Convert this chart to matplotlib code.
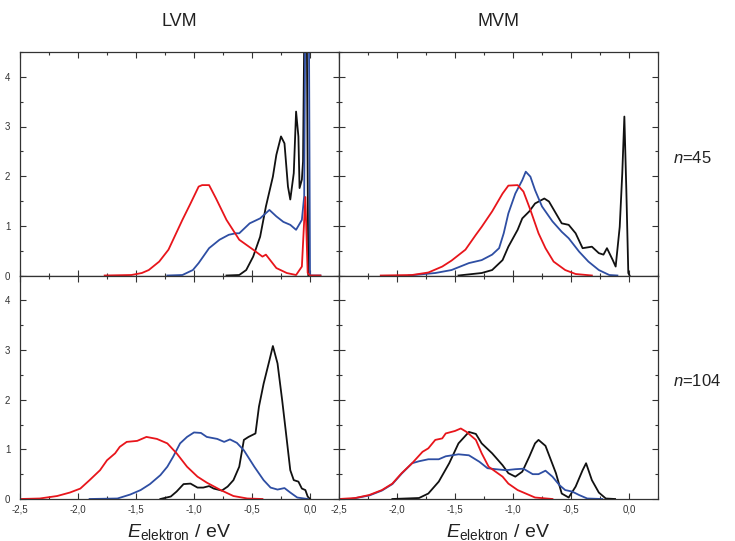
import numpy as np
import matplotlib
matplotlib.use("Agg")
import matplotlib.pyplot as plt
from matplotlib.ticker import MultipleLocator, FuncFormatter

plt.rcParams['font.family'] = ['Liberation Sans', 'DejaVu Sans']
plt.rcParams['mathtext.fontset'] = 'custom'
plt.rcParams['mathtext.rm'] = 'Liberation Sans'
plt.rcParams['mathtext.it'] = 'Liberation Sans:italic'

RED = '#e8151b'
BLUE = '#2e4ea3'
BLACK = '#111111'

# ---- LVM, n=45 ----
lvm45_red_x = [-1.77, -1.54, -1.45, -1.39, -1.30, -1.22, -1.16, -1.10, -1.03, -0.96, -0.93, -0.87,
               -0.81, -0.72, -0.61, -0.49, -0.41, -0.38, -0.29, -0.20, -0.12, -0.07, -0.04, -0.02,
               0.0, 0.09]
lvm45_red_y = [0.0, 0.01, 0.05, 0.11, 0.28, 0.52, 0.82, 1.12, 1.45, 1.79, 1.82, 1.82,
               1.55, 1.12, 0.72, 0.52, 0.38, 0.42, 0.15, 0.05, 0.01, 0.18, 1.58, 0.05,
               0.0, 0.0]
lvm45_blue_x = [-1.23, -1.10, -1.01, -0.96, -0.87, -0.78, -0.70, -0.64, -0.61, -0.52, -0.43, -0.35,
                -0.29, -0.23, -0.17, -0.12, -0.07, -0.05, -0.04, -0.01, 0.0, 0.09]
lvm45_blue_y = [0.0, 0.01, 0.11, 0.25, 0.55, 0.72, 0.82, 0.85, 0.85, 1.05, 1.15, 1.32,
                1.19, 1.08, 1.02, 0.92, 1.12, 1.6, 5.5, 5.5, 0.0, 0.0]
lvm45_black_x = [-0.72, -0.61, -0.55, -0.49, -0.43, -0.38, -0.32, -0.29, -0.25, -0.22, -0.19, -0.17,
                 -0.14, -0.12, -0.10, -0.09, -0.07, -0.06, -0.045, -0.03, -0.015]
lvm45_black_y = [0.0, 0.01, 0.11, 0.38, 0.78, 1.39, 1.99, 2.43, 2.80, 2.66, 1.79, 1.53,
                 2.06, 3.30, 2.80, 1.76, 1.93, 2.3, 6.0, 6.0, 0.0]

# ---- MVM, n=45 ----
mvm45_red_x = [-2.14, -1.87, -1.73, -1.61, -1.53, -1.41, -1.32, -1.27, -1.18, -1.09, -1.04, -0.96,
               -0.91, -0.85, -0.78, -0.72, -0.65, -0.55, -0.46, -0.32]
mvm45_red_y = [0.0, 0.01, 0.06, 0.18, 0.30, 0.52, 0.82, 0.98, 1.29, 1.65, 1.81, 1.82,
               1.69, 1.32, 0.85, 0.55, 0.28, 0.11, 0.03, 0.0]
mvm45_blue_x = [-1.90, -1.67, -1.53, -1.38, -1.27, -1.18, -1.12, -1.08, -1.04, -0.98, -0.92, -0.89,
                -0.85, -0.81, -0.75, -0.66, -0.58, -0.52, -0.43, -0.35, -0.26, -0.17, -0.10]
mvm45_blue_y = [0.0, 0.05, 0.11, 0.25, 0.31, 0.42, 0.55, 0.85, 1.25, 1.65, 1.92, 2.09,
                1.99, 1.72, 1.39, 1.09, 0.88, 0.75, 0.48, 0.28, 0.11, 0.01, 0.0]
mvm45_black_x = [-1.47, -1.27, -1.18, -1.09, -1.04, -0.96, -0.92, -0.86, -0.81, -0.73, -0.69, -0.63,
                 -0.58, -0.52, -0.46, -0.40, -0.32, -0.26, -0.22, -0.19, -0.14, -0.115, -0.08, -0.058,
                 -0.04, -0.023, -0.006, 0.005]
mvm45_black_y = [0.0, 0.05, 0.11, 0.31, 0.58, 0.92, 1.15, 1.29, 1.45, 1.55, 1.49, 1.25,
                 1.05, 1.02, 0.85, 0.55, 0.58, 0.45, 0.42, 0.55, 0.31, 0.18, 0.98, 2.06,
                 3.20, 1.72, 0.05, 0.0]

# ---- LVM, n=104 ----
lvm104_red_x = [-2.50, -2.33, -2.18, -2.07, -1.98, -1.90, -1.81, -1.75, -1.68, -1.64, -1.58, -1.49,
                -1.41, -1.32, -1.23, -1.15, -1.06, -0.97, -0.89, -0.77, -0.66, -0.54, -0.41]
lvm104_red_y = [0.0, 0.01, 0.06, 0.13, 0.21, 0.38, 0.58, 0.78, 0.92, 1.05, 1.15, 1.17,
                1.25, 1.21, 1.12, 0.92, 0.65, 0.45, 0.33, 0.18, 0.06, 0.01, 0.0]
lvm104_blue_x = [-1.90, -1.66, -1.55, -1.46, -1.38, -1.29, -1.23, -1.18, -1.12, -1.06, -1.00, -0.94,
                 -0.89, -0.80, -0.74, -0.69, -0.63, -0.57, -0.48, -0.40, -0.34, -0.28, -0.22, -0.17,
                 -0.11, -0.02]
lvm104_blue_y = [0.0, 0.01, 0.09, 0.18, 0.30, 0.48, 0.65, 0.85, 1.12, 1.25, 1.34, 1.33,
                 1.25, 1.21, 1.15, 1.20, 1.13, 0.98, 0.65, 0.38, 0.23, 0.19, 0.22, 0.13,
                 0.03, 0.0]
lvm104_black_x = [-1.29, -1.20, -1.15, -1.09, -1.03, -0.97, -0.92, -0.87, -0.83, -0.76, -0.71, -0.66,
                  -0.61, -0.57, -0.53, -0.47, -0.44, -0.40, -0.35, -0.32, -0.28, -0.24, -0.21, -0.17,
                  -0.14, -0.10, -0.07, -0.04, -0.02, 0.0]
lvm104_black_y = [0.0, 0.05, 0.15, 0.30, 0.31, 0.23, 0.23, 0.26, 0.21, 0.17, 0.25, 0.38,
                  0.65, 1.19, 1.25, 1.32, 1.86, 2.32, 2.79, 3.08, 2.73, 1.99, 1.39, 0.58,
                  0.38, 0.35, 0.21, 0.18, 0.05, 0.0]

# ---- MVM, n=104 ----
mvm104_red_x = [-2.50, -2.36, -2.24, -2.13, -2.04, -1.96, -1.87, -1.78, -1.73, -1.67, -1.61, -1.58,
                -1.50, -1.45, -1.40, -1.32, -1.27, -1.21, -1.15, -1.09, -1.04, -0.96, -0.89, -0.81,
                -0.66]
mvm104_red_y = [0.0, 0.02, 0.08, 0.18, 0.31, 0.52, 0.72, 0.95, 1.02, 1.19, 1.22, 1.32,
                1.37, 1.42, 1.35, 1.19, 0.92, 0.65, 0.55, 0.45, 0.31, 0.18, 0.11, 0.03,
                0.0]
mvm104_blue_x = [-2.40, -2.24, -2.13, -2.04, -1.96, -1.87, -1.81, -1.73, -1.64, -1.58, -1.47, -1.38,
                 -1.29, -1.22, -1.15, -1.06, -0.98, -0.91, -0.83, -0.78, -0.72, -0.66, -0.60, -0.55,
                 -0.49, -0.43, -0.36, -0.23]
mvm104_blue_y = [0.0, 0.07, 0.17, 0.30, 0.51, 0.72, 0.76, 0.80, 0.80, 0.86, 0.90, 0.88,
                 0.75, 0.62, 0.60, 0.58, 0.60, 0.61, 0.50, 0.50, 0.57, 0.45, 0.28, 0.18,
                 0.15, 0.08, 0.01, 0.0]
mvm104_black_x = [-2.04, -1.81, -1.73, -1.64, -1.55, -1.47, -1.38, -1.32, -1.27, -1.18, -1.09, -1.04,
                  -0.98, -0.92, -0.86, -0.81, -0.78, -0.72, -0.63, -0.58, -0.52, -0.46, -0.40, -0.37,
                  -0.32, -0.26, -0.20, -0.12]
mvm104_black_y = [0.0, 0.02, 0.11, 0.35, 0.72, 1.12, 1.35, 1.31, 1.12, 0.92, 0.68, 0.52,
                  0.45, 0.55, 0.85, 1.12, 1.19, 1.07, 0.52, 0.11, 0.03, 0.25, 0.58, 0.72,
                  0.38, 0.13, 0.01, 0.0]

panels = [
    ('LVM', 45, lvm45_black_x, lvm45_black_y, lvm45_blue_x, lvm45_blue_y, lvm45_red_x, lvm45_red_y),
    ('MVM', 45, mvm45_black_x, mvm45_black_y, mvm45_blue_x, mvm45_blue_y, mvm45_red_x, mvm45_red_y),
    ('LVM', 104, lvm104_black_x, lvm104_black_y, lvm104_blue_x, lvm104_blue_y, lvm104_red_x, lvm104_red_y),
    ('MVM', 104, mvm104_black_x, mvm104_black_y, mvm104_blue_x, mvm104_blue_y, mvm104_red_x, mvm104_red_y),
]

W, H = 735, 541
fig = plt.figure(figsize=(W / 100, H / 100), dpi=100)
fig.set_facecolor('white')

lefts = [20, 339]
tops = [52, 275.5]
pw, ph = 319, 223.5


def comma_fmt(skip_first):
    def f(v, pos):
        if skip_first and v < -2.45:
            return ''
        return ('%.1f' % v).replace('.', ',')
    return FuncFormatter(f)


axes = []
for i, (model, n, kx, ky, bx, by, rx, ry) in enumerate(panels):
    row, col = divmod(i, 2)
    ax = fig.add_axes([lefts[col] / W, 1 - (tops[row] + ph) / H, pw / W, ph / H])
    ax.plot(kx, ky, color=BLACK, lw=1.3)
    ax.plot(bx, by, color=BLUE, lw=1.3)
    ax.plot(rx, ry, color=RED, lw=1.3)
    ax.set_xlim(-2.5, 0.25)
    ax.set_ylim(0, 4.5)
    ax.xaxis.set_major_locator(MultipleLocator(0.5))
    ax.xaxis.set_minor_locator(MultipleLocator(0.25))
    ax.yaxis.set_major_locator(MultipleLocator(1))
    ax.yaxis.set_minor_locator(MultipleLocator(0.5))
    ax.xaxis.set_major_formatter(comma_fmt(row == 0))
    ax.tick_params(which='both', direction='in', top=True, right=True,
                   color='#333333', labelcolor='#333333', labelsize=7, width=0.8)
    ax.tick_params(which='major', length=4)
    ax.tick_params(which='minor', length=2.5)
    ax.tick_params(axis='x', which='major', pad=4)
    ax.tick_params(axis='y', which='major', pad=7, labelleft=(col == 0))
    for s in ax.spines.values():
        s.set_color('#333333')
        s.set_linewidth(0.9)
    axes.append(ax)

    if row == 0:
        fig.text((lefts[col] + pw / 2) / W, 1 - 21 / H, model, ha='center', va='center',
                 fontsize=13, color='#222222')
    if row == 1:
        fig.text((lefts[col] + pw / 2) / W, 1 - 537 / H, r'$E_{\mathrm{elektron}}$ / eV',
                 ha='center', va='baseline', fontsize=14, color='#222222')
    if col == 1:
        fig.text(673 / W, 1 - (tops[row] + 106) / H, r'$n$=%d' % n, ha='left', va='center',
                 fontsize=12, color='#222222')

fig.savefig('out.png', dpi=100)
